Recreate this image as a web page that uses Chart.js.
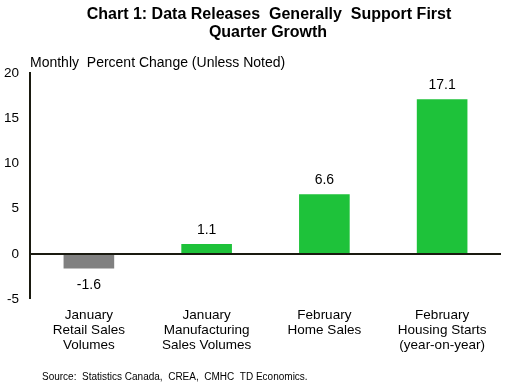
<!DOCTYPE html>
<html>
<head>
<meta charset="utf-8">
<script src="https://cdn.jsdelivr.net/npm/chart.js@4"></script>
<style>
  html, body { margin: 0; padding: 0; background: #fff; }
  #wrap { width: 517px; height: 385px; }
</style>
</head>
<body>
<div id="wrap"><canvas id="chart1"></canvas></div>
<script>
// data
const categories = [
  ['January', 'Retail Sales', 'Volumes'],
  ['January', 'Manufacturing', 'Sales Volumes'],
  ['February', 'Home Sales'],
  ['February', 'Housing Starts', '(year-on-year)']
];
const values = [-1.6, 1.1, 6.6, 17.1];
const yTicks = [-5, 0, 5, 10, 15, 20];

const titleLines = ['Chart 1: Data Releases  Generally  Support First', 'Quarter Growth'];
const axisNote = 'Monthly  Percent Change (Unless Noted)';
const sourceNote = 'Source:  Statistics Canada,  CREA,  CMHC  TD Economics.';

const FONT = '"Liberation Sans", Arial, sans-serif';

// title, value labels on bars, axis note, source
const extras = {
  id: 'extras',
  afterDatasetsDraw(chart) {
    const ctx = chart.ctx;
    const meta = chart.getDatasetMeta(0);
    ctx.save();
    ctx.fillStyle = '#000';
    ctx.textAlign = 'center';
    ctx.textBaseline = 'alphabetic';
    ctx.font = 'bold 16px ' + FONT;
    ctx.fillText(titleLines[0], 269, 19);
    ctx.fillText(titleLines[1], 268, 37);

    ctx.font = '14px ' + FONT;
    meta.data.forEach((bar, i) => {
      const v = values[i];
      if (v >= 0) {
        ctx.textBaseline = 'bottom';
        ctx.fillText(v.toFixed(1), bar.x, bar.y - 7);
      } else {
        ctx.textBaseline = 'top';
        ctx.fillText(v.toFixed(1), bar.x, bar.y + 10);
      }
    });
    const area = chart.chartArea;
    ctx.textAlign = 'left';
    ctx.textBaseline = 'alphabetic';
    ctx.font = '14px ' + FONT;
    ctx.fillText(axisNote, area.left, 67);
    ctx.font = '10px ' + FONT;
    ctx.fillText(sourceNote, 42, 380);
    ctx.restore();
  }
};

new Chart(document.getElementById('chart1'), {
  type: 'bar',
  data: {
    labels: categories,
    datasets: [{
      data: values,
      backgroundColor: values.map(v => v < 0 ? '#808080' : '#1EC23A'),
      borderWidth: 0,
      barPercentage: 0.43,
      categoryPercentage: 1
    }]
  },
  options: {
    responsive: true,
    maintainAspectRatio: false,
    animation: false,
    layout: { padding: { top: 73, right: 16, bottom: 24, left: 0 } },
    plugins: {
      legend: { display: false },
      tooltip: { enabled: false },
      title: { display: false }
    },
    scales: {
      x: {
        grid: { display: false, drawTicks: false },
        border: { display: false },
        ticks: {
          color: '#000',
          font: { family: FONT, size: 13.5, lineHeight: 1.13 },
          padding: 8,
          maxRotation: 0,
          autoSkip: false
        }
      },
      y: {
        min: -5,
        max: 20,
        afterBuildTicks(axis) {
          axis.ticks = yTicks.map(v => ({ value: v }));
        },
        afterFit(axis) {
          axis.width = 30;
        },
        grid: {
          drawTicks: false,
          color: c => c.tick && c.tick.value === 0 ? '#1a1a10' : 'rgba(0,0,0,0)',
          lineWidth: c => c.tick && c.tick.value === 0 ? 2 : 0
        },
        border: { display: true, color: '#1a1a10', width: 2 },
        ticks: {
          color: '#000',
          font: { family: FONT, size: 13.5 },
          padding: 11
        }
      }
    }
  },
  plugins: [extras]
});
</script>
</body>
</html>
